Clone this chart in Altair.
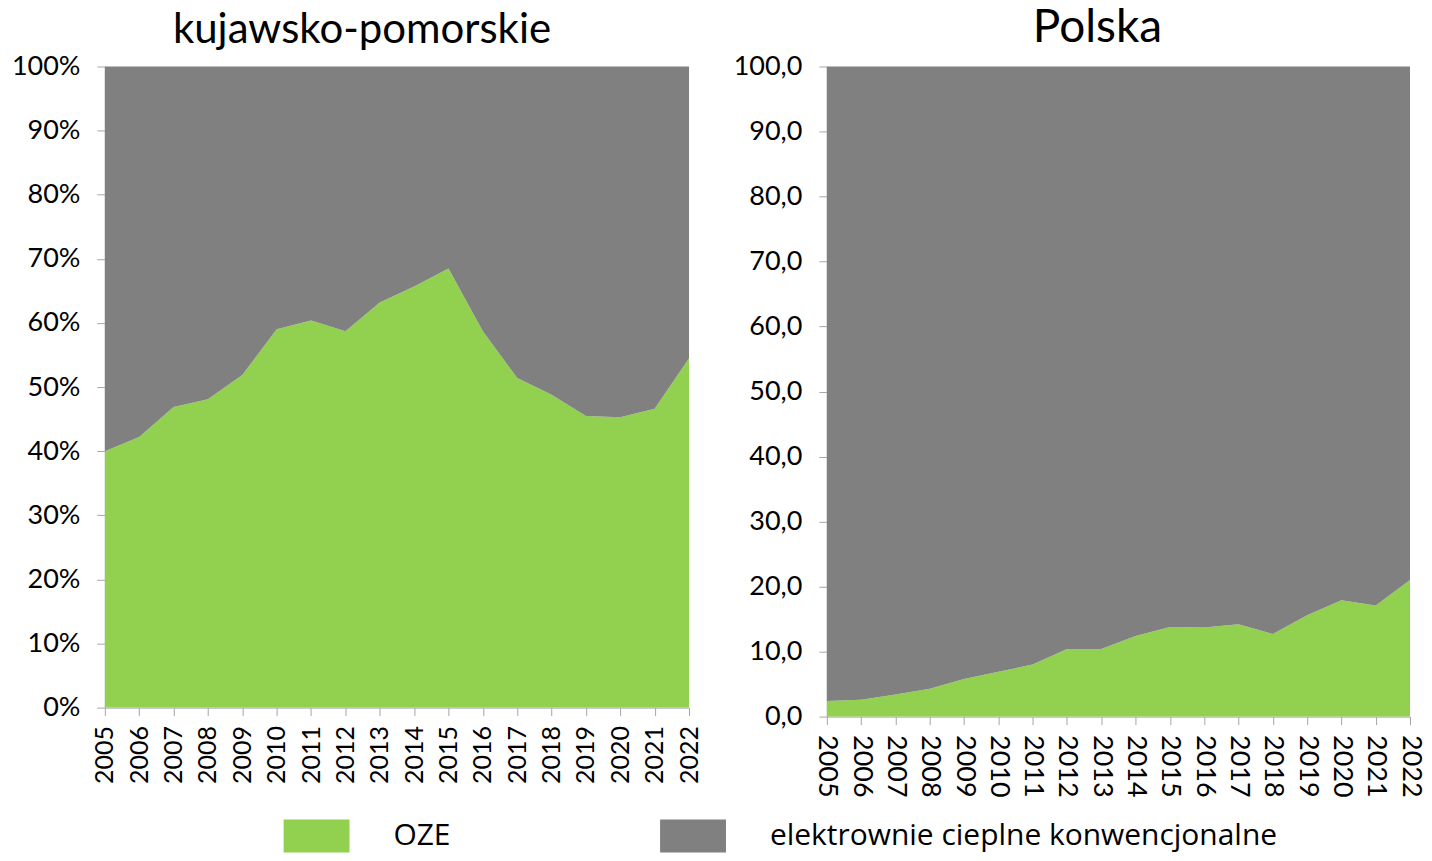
import altair as alt
import pandas as pd

years = list(range(2005, 2023))
series_names = ["OZE", "elektrownie cieplne konwencjonalne"]
colors = ["#92D050", "#808080"]

# kujawsko-pomorskie (%)
kp_oze = [40.0, 42.2, 46.9, 48.1, 51.9, 59.0, 60.4, 58.7, 63.2, 65.7, 68.5, 58.7, 51.4, 48.8, 45.5, 45.3, 46.6, 54.5]
kp_conv = [60.0, 57.8, 53.1, 51.9, 48.1, 41.0, 39.6, 41.3, 36.8, 34.3, 31.5, 41.3, 48.6, 51.2, 54.5, 54.7, 53.4, 45.5]

# Polska
pl_oze = [2.4, 2.6, 3.4, 4.3, 5.8, 6.9, 8.0, 10.4, 10.4, 12.4, 13.8, 13.7, 14.2, 12.7, 15.6, 17.9, 17.1, 21.0]
pl_conv = [97.6, 97.4, 96.6, 95.7, 94.2, 93.1, 92.0, 89.6, 89.6, 87.6, 86.2, 86.3, 85.8, 87.3, 84.4, 82.1, 82.9, 79.0]

titles = ["kujawsko-pomorskie", "Polska"]
y_ticks = [0, 10, 20, 30, 40, 50, 60, 70, 80, 90, 100]

FONT = "Lato"


def long_df(oze, conv):
    rows = []
    for i, y in enumerate(years):
        rows.append({"year": y, "series": series_names[0], "ord": 0, "value": oze[i]})
        rows.append({"year": y, "series": series_names[1], "ord": 1, "value": conv[i]})
    return pd.DataFrame(rows)


color_scale = alt.Scale(domain=series_names, range=colors)


def panel(df, title, w, h, y_label_expr, x_angle, x_pad, x_fs, y_fs,
          title_size, title_offset, title_dx, show_legend):
    legend = None
    if show_legend:
        legend = alt.Legend(
            title=None,
            orient="none",
            legendX=195.5,
            legendY=754,
            direction="horizontal",
            columns=2,
            columnPadding=209,
            padding=0,
            symbolType="M-2,-1H2V1H-2Z",
            symbolSize=33 * 33,
            symbolStrokeWidth=0,
            symbolOpacity=1,
            labelFontSize=30,
            labelFont="Open Sans",
            labelColor="#000000",
            labelOffset=60.5,
            labelLimit=800,
            labelBaseline="middle",
        )
    return (
        alt.Chart(df)
        .mark_area(opacity=1, strokeWidth=0)
        .encode(
            x=alt.X(
                "year:Q",
                scale=alt.Scale(domain=[2005, 2022], nice=False, zero=False),
                axis=alt.Axis(
                    values=years,
                    format="d",
                    title=None,
                    labelAngle=x_angle,
                    labelPadding=x_pad,
                    labelFontSize=x_fs,
                    labelFont=FONT,
                    labelColor="#000000",
                    tickSize=8,
                    tickColor="#a6a6a6",
                    domainColor="#a6a6a6",
                    grid=False,
                    labelOverlap=False,
                ),
            ),
            y=alt.Y(
                "value:Q",
                stack="zero",
                scale=alt.Scale(domain=[0, 100], nice=False),
                axis=alt.Axis(
                    values=y_ticks,
                    labelExpr=y_label_expr,
                    title=None,
                    labelFontSize=y_fs,
                    labelFont=FONT,
                    labelColor="#000000",
                    labelPadding=17,
                    tickSize=8,
                    tickColor="#a6a6a6",
                    domainColor="#a6a6a6",
                    grid=False,
                ),
            ),
            color=alt.Color("series:N", scale=color_scale, legend=legend),
            order=alt.Order("ord:Q", sort="ascending"),
        )
        .properties(
            width=w,
            height=h,
            title=alt.TitleParams(
                text=title,
                fontSize=title_size,
                font=FONT,
                fontWeight="normal",
                color="#000000",
                anchor="middle",
                frame="group",
                offset=title_offset,
                dx=title_dx,
            ),
        )
    )


left = panel(
    long_df(kp_oze, kp_conv), titles[0], 585, 642,
    "datum.value + '%'", -90, 10, 25, 27, 42, 1, -35, True,
)
right = panel(
    long_df(pl_oze, pl_conv), titles[1], 584, 651,
    "replace(format(datum.value, '.1f'), '.', ',')", 90, 10, 27, 27, 46, 1, -21, False,
)

chart = (
    alt.hconcat(left, right, spacing=31)
    .properties(padding={"left": 3, "top": -4, "right": 0, "bottom": 0})
    .configure_view(stroke=None)
)

chart.save("out.html", embed_options={"renderer": "svg", "actions": False})
